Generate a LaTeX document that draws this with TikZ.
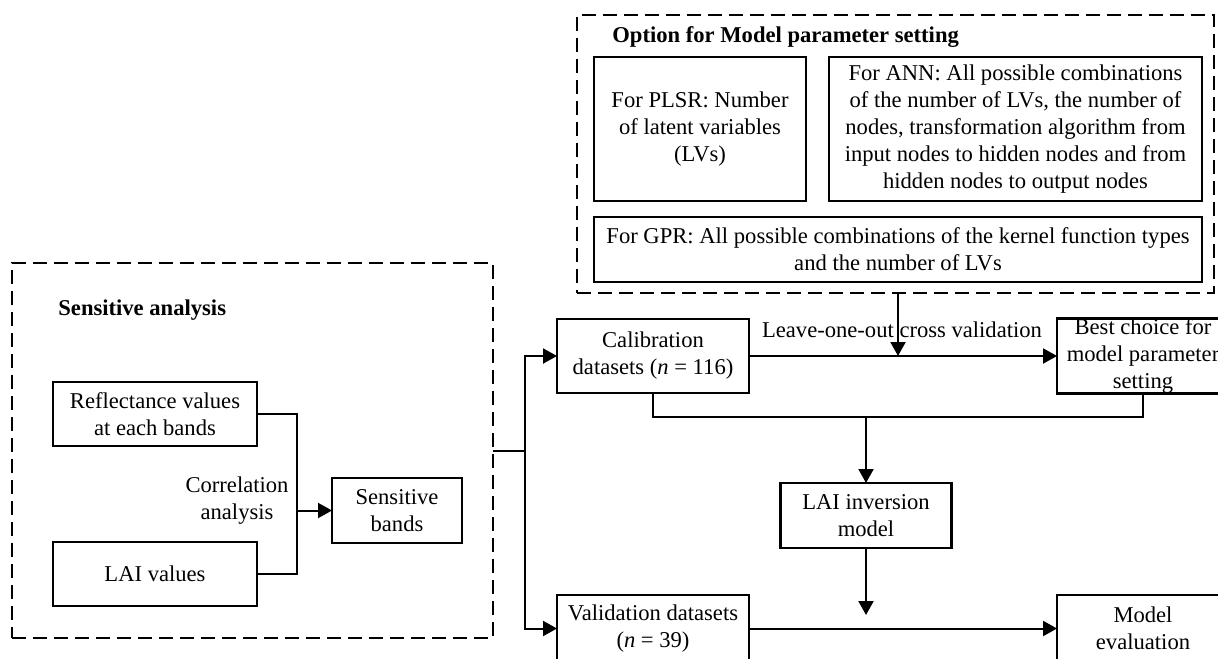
\documentclass[tikz,border=0pt]{standalone}
\usepackage{fontspec}
\setmainfont{Liberation Serif}
\usetikzlibrary{arrows.meta}

\begin{document}
\begin{tikzpicture}[x=0.5pt,y=-0.5pt,font=\fontsize{11.3}{13.5}\selectfont,
                box/.style={draw,line width=1.2pt,align=center,inner sep=0pt,outer sep=0pt},
                dashframe/.style={draw,line width=1pt,dash pattern=on 7pt off 3.5pt,inner sep=0pt,outer sep=0pt},
                title/.style={anchor=west,inner sep=0pt,font=\fontsize{11.3}{13.5}\selectfont\bfseries},
                arr/.style={line width=1pt,-{Triangle[length=7pt,width=7.5pt]}},
                conn/.style={line width=1pt}]
                \useasboundingbox (0,0) rectangle (1218,658);
                \clip (0,0) rectangle (1218,658);
                \node[dashframe,minimum width=318.5pt,minimum height=139pt] (optframe) at (895.5,154) {};
                \node[title] (opttitle) at (612,37) {Option for Model parameter setting};
                \node[box,minimum width=106pt,minimum height=72pt] (plsr) at (700,129) {For PLSR: Number\\of latent variables\\(LVs)};
                \node[box,minimum width=186.5pt,minimum height=72pt] (ann) at (1015.5,129) {For ANN: All possible combinations\\of the number of LVs, the number of\\nodes, transformation algorithm from\\input nodes to hidden nodes and from\\hidden nodes to output nodes};
                \node[box,minimum width=304pt,minimum height=32.5pt] (gpr) at (898,249.5) {For GPR: All possible combinations of the kernel function types\\and the number of LVs};
                \node[dashframe,minimum width=240.5pt,minimum height=187.5pt] (saframe) at (252.5,450.5) {};
                \node[title] (satitle) at (58,310) {Sensitive analysis};
                \node[box,minimum width=102pt,minimum height=32pt] (refl) at (155,414) {Reflectance values\\at each bands};
                \node[box,minimum width=102pt,minimum height=32pt] (laival) at (155,574) {LAI values};
                \node[box,minimum width=65pt,minimum height=32.5pt] (sens) at (397,510.5) {Sensitive\\bands};
                \node[align=center,inner sep=0pt] (corr) at (237,500.5) {Correlation\\analysis};
                \node[box,minimum width=96pt,minimum height=37pt] (cal) at (653,356) {Calibration\\datasets (\textit{n} = 116)};
                \node[box,minimum width=86pt,minimum height=37pt] (best) at (1143,356) {Best choice for\\model parameter\\setting};
                \node[inner sep=0pt] (loo) at (902,330) {Leave-one-out cross validation};
                \node[box,minimum width=85.5pt,minimum height=32.5pt] (laimod) at (866,515.5) {LAI inversion\\model};
                \node[box,minimum width=96pt,minimum height=33.5pt] (val) at (653,628.5) {Validation datasets\\(\textit{n} = 39)};
                \node[box,minimum width=86pt,minimum height=33.5pt] (modev) at (1143,628.5) {Model\\evaluation};
                \coordinate (cj) at (297,510.5);
                \draw[conn] (refl) -| (cj) |- (laival);
                \draw[arr] (cj) -- (sens);
                \draw[conn] (saframe.east) -- ++(32,0) coordinate (split);
                \draw[arr] (split) |- (cal);
                \draw[arr] (split) |- (val);
                \draw[arr] (cal) -- (best);
                \draw[arr] (optframe.south -| gpr.south) -- (gpr.south |- cal.east);
                \coordinate (merge) at (866,417);
                \draw[conn] (cal.south) |- (merge) -| (best.south);
                \draw[arr] (merge) -- (laimod);
                \coordinate (lend) at (866,615);
                \draw[arr] (laimod) -- (lend);
                \draw[arr] (val) -- (modev);
\end{tikzpicture}
\end{document}
